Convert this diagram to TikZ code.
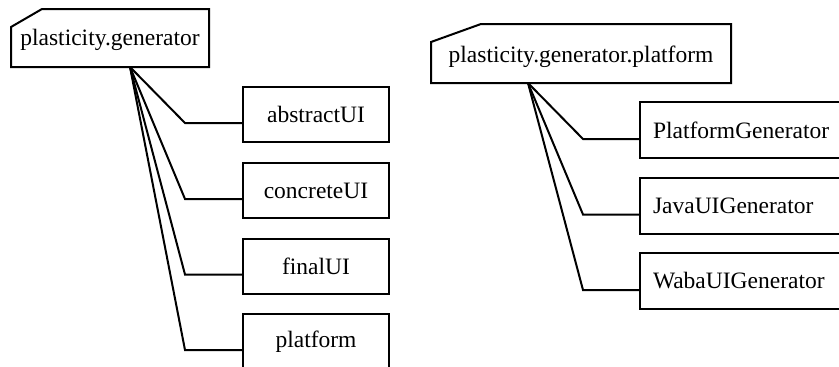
\documentclass[tikz,border=0pt]{standalone}
\usepackage{fontspec}
\setmainfont{Liberation Serif}
\begin{document}
\begin{tikzpicture}[x=1pt,y=-1pt, line width=2pt, line join=miter,
  txt/.style={font=\fontsize{23.5}{28}\selectfont},
  lbl/.style={txt, inner sep=0pt},
  pkg/.style={inner sep=0pt},
  leaf/.style={txt, draw, minimum width=146pt, minimum height=55pt, inner sep=0pt},
  rleaf/.style={txt, draw, anchor=west, text width=190pt, inner xsep=13pt, inner ysep=0pt, minimum height=56pt, align=left},
  conn/.style={draw}]
\useasboundingbox (0,0) rectangle (839,367);
\clip (0,0) rectangle (839,367);

% left package
\node[pkg, minimum width=196pt, minimum height=56pt] (gen) at (110,38) {};
\draw (gen.north west) ++(0,18) -- ++(31,-18) -- (gen.north east) -- (gen.south east) -- (gen.south west) -- cycle;
\node[lbl, anchor=base] (gent) at (110,45) {plasticity.generator};

\node[leaf] (abs) at (316,114.5) {abstractUI};
\node[leaf] (con) at (316,190.5) {concreteUI};
\node[leaf] (fin) at (316,266) {finalUI};
\node[leaf] (plat) at (316,341.5) {platform};

\foreach \n in {abs,con,fin,plat}{
  \draw[conn] ([xshift=20pt]gen.south) -- ([xshift=-57pt,yshift=-8.5pt]\n.west) -- ([yshift=-8.5pt]\n.west);
}

% right package
\node[pkg, minimum width=298pt, minimum height=57pt] (pgen) at (581,53.5) {};
\draw (pgen.north west) ++(0,18) -- ++(50,-18) -- (pgen.north east) -- (pgen.south east) -- (pgen.south west) -- cycle;
\node[lbl, anchor=base] (pgent) at (581,62) {plasticity.generator.platform};

\node[rleaf] (pg) at (639,130) {PlatformGenerator};
\node[rleaf] (jg) at (639,205.5) {JavaUIGenerator};
\node[rleaf] (wg) at (639,281) {WabaUIGenerator};

\foreach \n in {pg,jg,wg}{
  \draw[conn] ([xshift=-53pt]pgen.south) -- ([xshift=-56pt,yshift=-9pt]\n.west) -- ([yshift=-9pt]\n.west);
}
\end{tikzpicture}
\end{document}
